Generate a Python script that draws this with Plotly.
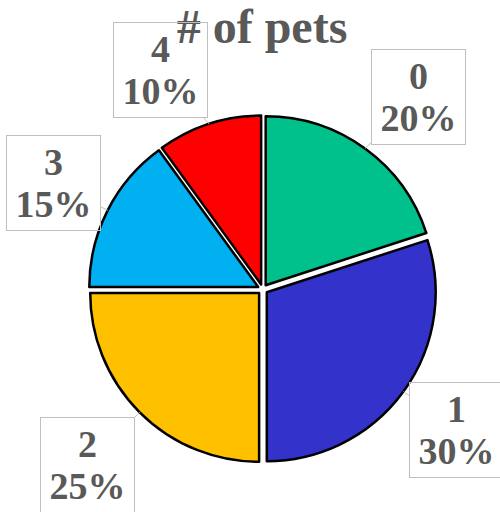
import math
import plotly.graph_objects as go

# Number of pets per household and the share of each group (%)
pets = ["0", "1", "2", "3", "4"]
shares = [20, 30, 25, 15, 10]
slice_colors = ["#00C08B", "#3333CC", "#FFC000", "#00B0F0", "#FF0000"]

W, H = 500, 512
CX, CY = 262.7, 289.3      # pie centre, px
R = 168.9                  # pie radius, px
PULL = 0.03                # every slice exploded slightly
# label box placement: distance from pie centre (px) and angular nudge (deg)
LABEL_DIST = [248, 240, 248, 235, 242]
LABEL_NUDGE = [3, 0, 0, 0, -7]
TEXT_GREY = "#595959"
BOX_GREY = "#BFBFBF"
SERIF = "Liberation Serif"


def px_to_paper(x, y):
    return x / W, 1 - y / H


half = R * (1 + PULL)
x0, y1 = px_to_paper(CX - half, CY - half)
x1, y0 = px_to_paper(CX + half, CY + half)

fig = go.Figure(
    go.Pie(
        labels=pets,
        values=shares,
        sort=False,
        direction="clockwise",
        rotation=0,
        pull=[PULL] * len(shares),
        marker=dict(colors=slice_colors, line=dict(color="black", width=2.5)),
        textinfo="none",
        hoverinfo="label+percent",
        showlegend=False,
        domain=dict(x=[x0, x1], y=[y0, y1]),
    )
)

# Boxed data labels with short leader lines back to each slice
total = sum(shares)
cum = 0
annotations = []
for i, (name, val) in enumerate(zip(pets, shares)):
    mid = (cum + val / 2) / total * 2 * math.pi
    cum += val
    edge_x = CX + math.sin(mid) * R * (1 + PULL)
    edge_y = CY - math.cos(mid) * R * (1 + PULL)
    ang = mid + math.radians(LABEL_NUDGE[i])
    lab_x = CX + math.sin(ang) * LABEL_DIST[i]
    lab_y = CY - math.cos(ang) * LABEL_DIST[i]
    px, py = px_to_paper(edge_x, edge_y)
    pct = round(val / total * 100)
    big = "<span style='font-size:38px'><b>{}</b></span>"
    annotations.append(
        dict(
            x=px, y=py, xref="paper", yref="paper",
            ax=lab_x - edge_x, ay=lab_y - edge_y,
            text=big.format(name) + "<br>" + big.format(f"{pct}%"),
            font=dict(family=SERIF, size=32, color=TEXT_GREY),
            showarrow=True, arrowhead=0, arrowwidth=1, arrowcolor=BOX_GREY,
            bordercolor=BOX_GREY, borderwidth=1, borderpad=3,
            bgcolor="rgba(255,255,255,0)",
            width=87, height=88, align="center",
        )
    )

fig.update_layout(
    width=W, height=H,
    margin=dict(l=0, r=0, t=0, b=0),
    paper_bgcolor="white",
    plot_bgcolor="white",
    title=dict(
        text="<b># of pets</b>",
        font=dict(family=SERIF, size=48, color=TEXT_GREY),
        x=262 / W, xanchor="center",
        y=1 - 9 / H, yanchor="top", yref="container",
    ),
    annotations=annotations,
)

fig.write_html("out.html")
